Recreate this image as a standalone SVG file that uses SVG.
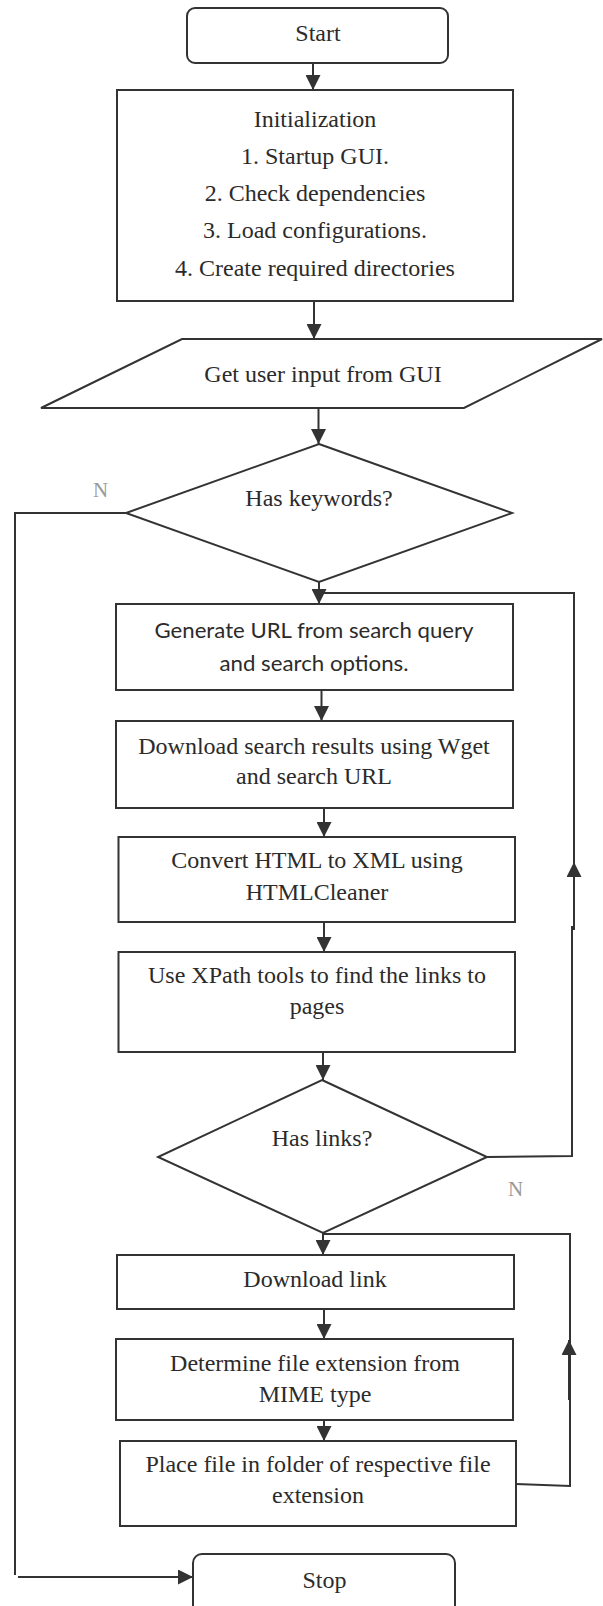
<svg xmlns="http://www.w3.org/2000/svg" width="603" height="1606" viewBox="0 0 603 1606">
<style>
.s{fill:#fff;stroke:#333;stroke-width:2}
.t{font-family:"Liberation Serif","Times New Roman",serif;font-size:24px;fill:#2b2b2b;text-anchor:middle}
.c{font-family:Lato,"Liberation Sans",sans-serif;font-size:21px;fill:#2b2b2b;text-anchor:middle}
.n{font-family:"Liberation Serif","Times New Roman",serif;font-size:21px;fill:#9a9a9a}
.l{fill:none;stroke:#333;stroke-width:2}
</style>
<defs>
<marker id="ah" markerWidth="15" markerHeight="15" refX="15" refY="7.5" orient="auto" markerUnits="userSpaceOnUse"><path d="M0,0 L15,7.5 L0,15 z" fill="#333"/></marker>
</defs>
<rect width="603" height="1606" fill="#fff"/>
<g id="connectors">
<path class="l" d="M313,63 V90" marker-end="url(#ah)"/>
<path class="l" d="M314,301 V339" marker-end="url(#ah)"/>
<path class="l" d="M318.5,407 V444" marker-end="url(#ah)"/>
<path class="l" d="M319,582 V604" marker-end="url(#ah)"/>
<path class="l" d="M487,1157 L572,1156 V927 L574,927 V593 H319"/>
<path class="l" d="M574,930 V862" marker-end="url(#ah)"/>
<path class="l" d="M321.5,690 V721" marker-end="url(#ah)"/>
<path class="l" d="M324,808 V837" marker-end="url(#ah)"/>
<path class="l" d="M324,922 V952" marker-end="url(#ah)"/>
<path class="l" d="M323,1052 V1080" marker-end="url(#ah)"/>
<path class="l" d="M323,1233 V1255" marker-end="url(#ah)"/>
<path class="l" d="M516,1484 L570,1486 V1234 H323"/>
<path class="l" d="M569,1400 V1340" marker-end="url(#ah)"/>
<path class="l" d="M324,1309 V1339" marker-end="url(#ah)"/>
<path class="l" d="M324,1415 V1441" marker-end="url(#ah)"/>
<path class="l" d="M126,513 H15 V1575"/>
<path class="l" d="M18,1577 H193" marker-end="url(#ah)"/>
<text class="n" x="93" y="497">N</text>
<text class="n" x="508" y="1196">N</text>
</g>
<g id="start">
<rect class="s" x="187" y="8" width="261" height="55" rx="8"/>
<text class="t" x="318" y="41">Start</text>
</g>
<g id="init">
<rect class="s" x="117" y="90" width="396" height="211"/>
<text class="t" x="315" y="127">Initialization</text>
<text class="t" x="315" y="164">1. Startup GUI.</text>
<text class="t" x="315" y="201">2. Check dependencies</text>
<text class="t" x="315" y="238">3. Load configurations.</text>
<text class="t" x="315" y="276">4. Create required directories</text>
</g>
<g id="input">
<polygon class="s" points="182,339 602,339 464,408 41,408"/>
<text class="t" x="323" y="382">Get user input from GUI</text>
</g>
<g id="haskeywords">
<polygon class="s" points="319,444 512,513 319,582 126,513"/>
<text class="t" x="319" y="506">Has keywords?</text>
</g>
<g id="genurl">
<rect class="s" x="116" y="604" width="397" height="86"/>
<text class="c" x="314" y="638" textLength="319" lengthAdjust="spacingAndGlyphs">Generate URL from search query</text>
<text class="c" x="314" y="671" textLength="189" lengthAdjust="spacingAndGlyphs">and search options.</text>
</g>
<g id="download">
<rect class="s" x="116" y="721" width="397" height="87"/>
<text class="t" x="314" y="754">Download search results using Wget</text>
<text class="t" x="314" y="784">and search URL</text>
</g>
<g id="convert">
<rect class="s" x="118.5" y="837" width="396.5" height="85"/>
<text class="t" x="317" y="868">Convert HTML to XML using</text>
<text class="t" x="317" y="900">HTMLCleaner</text>
</g>
<g id="xpath">
<rect class="s" x="118.5" y="952" width="396.5" height="100"/>
<text class="t" x="317" y="983">Use XPath tools to find the links to</text>
<text class="t" x="317" y="1014">pages</text>
</g>
<g id="haslinks">
<polygon class="s" points="322,1080 487,1157 323,1233 158,1157"/>
<text class="t" x="322" y="1146">Has links?</text>
</g>
<g id="downloadlink">
<rect class="s" x="117" y="1255" width="397" height="54"/>
<text class="t" x="315" y="1287">Download link</text>
</g>
<g id="determine">
<rect class="s" x="116" y="1339" width="397" height="81"/>
<text class="t" x="315" y="1371">Determine file extension from</text>
<text class="t" x="315" y="1402">MIME type</text>
</g>
<g id="place">
<rect class="s" x="120" y="1441" width="396" height="85"/>
<text class="t" x="318" y="1472">Place file in folder of respective file</text>
<text class="t" x="318" y="1503">extension</text>
</g>
<g id="stop">
<rect class="s" x="193" y="1554" width="262" height="62" rx="9"/>
<text class="t" x="324.5" y="1588">Stop</text>
</g>
</svg>
